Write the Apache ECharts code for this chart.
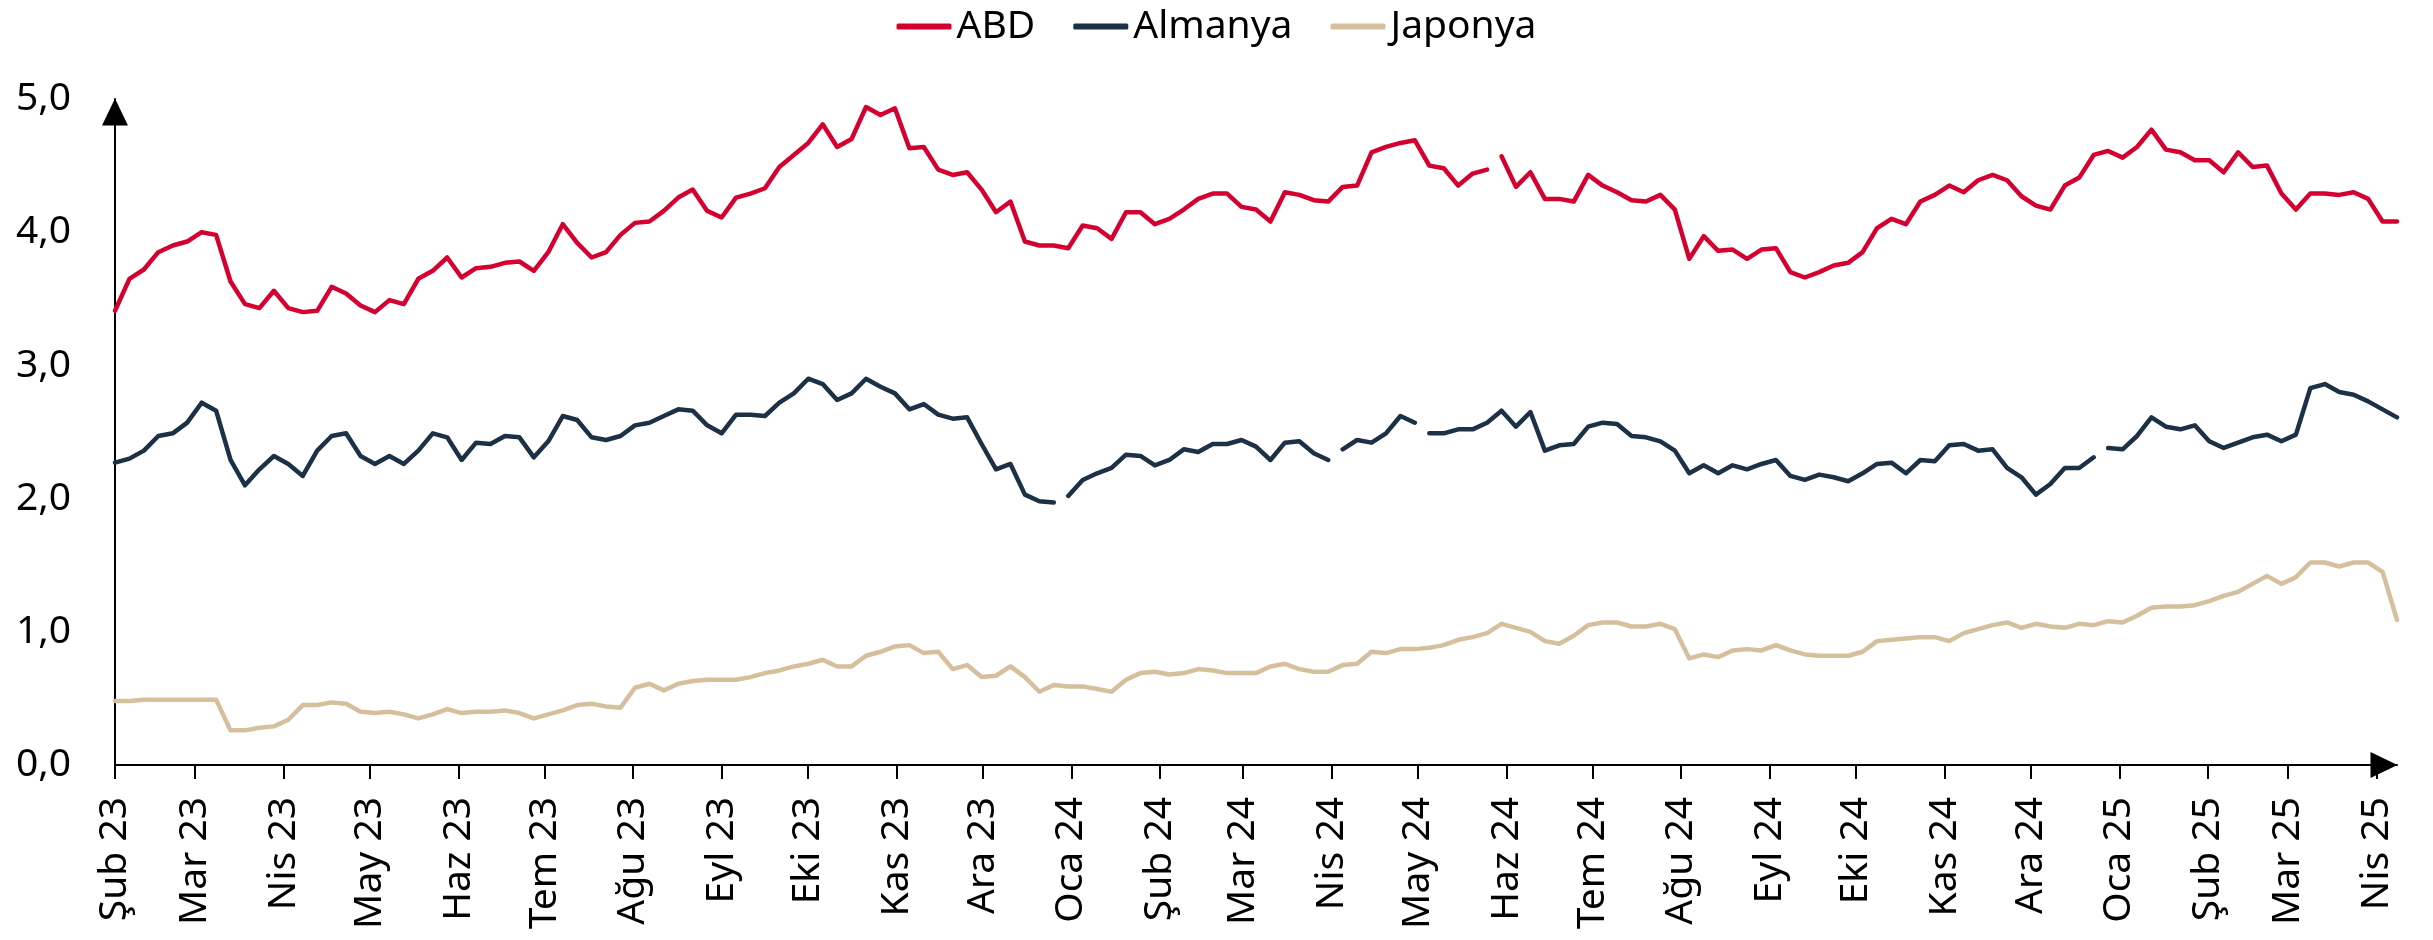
<!DOCTYPE html>
<html>
<head>
<meta charset="utf-8">
<script src="https://cdn.jsdelivr.net/npm/echarts@6/dist/echarts.min.js"></script>
<style>
  body {margin:0;padding:0;overflow:hidden;background:#fff;}
  #main {width:2433px;height:940px;}
</style>
</head>
<body>
<div id="main"></div>
<script>
// 10 yıllık tahvil faizleri (%), Şub 2023 - Nis 2025
const monthNames = ['Oca','Şub','Mar','Nis','May','Haz','Tem','Ağu','Eyl','Eki','Kas','Ara'];
const startDate = Date.UTC(2023, 1, 1);
const endDate = Date.UTC(2025, 3, 8);

const abd = [
  3.41,3.65,3.72,3.85,3.90,3.93,4.00,3.98,3.63,3.46,3.43,3.56,3.43,3.40,3.41,3.59,3.54,3.45,3.40,3.49,
  3.46,3.65,3.71,3.81,3.66,3.73,3.74,3.77,3.78,3.71,3.85,4.06,3.92,3.81,3.85,3.98,4.07,4.08,4.16,4.26,
  4.32,4.16,4.11,4.26,4.29,4.33,4.49,4.58,4.67,4.81,4.64,4.70,4.94,4.88,4.93,4.63,4.64,4.47,4.43,4.45,
  4.32,4.15,4.23,3.93,3.90,3.90,3.88,4.05,4.03,3.95,4.15,4.15,4.06,4.10,4.17,4.25,4.29,4.29,4.19,4.17,
  4.08,4.30,4.28,4.24,4.23,4.34,4.35,4.60,4.64,4.67,4.69,4.50,4.48,4.35,4.44,4.47,4.57,4.34,4.45,4.25,
  4.25,4.23,4.43,4.35,4.30,4.24,4.23,4.28,4.17,3.80,3.97,3.86,3.87,3.80,3.87,3.88,3.70,3.66,3.70,3.75,
  3.77,3.85,4.03,4.10,4.06,4.23,4.28,4.35,4.30,4.39,4.43,4.39,4.27,4.20,4.17,4.35,4.41,4.58,4.61,4.56,
  4.64,4.77,4.62,4.60,4.54,4.54,4.45,4.60,4.49,4.50,4.29,4.17,4.29,4.29,4.28,4.30,4.25,4.08,4.08
];
const almanya = [
  2.27,2.30,2.36,2.47,2.49,2.57,2.72,2.66,2.29,2.10,2.22,2.32,2.26,2.17,2.36,2.47,2.49,2.32,2.26,2.32,
  2.26,2.36,2.49,2.46,2.29,2.42,2.41,2.47,2.46,2.31,2.43,2.62,2.59,2.46,2.44,2.47,2.55,2.57,2.62,2.67,
  2.66,2.55,2.49,2.63,2.63,2.62,2.72,2.79,2.90,2.86,2.74,2.79,2.90,2.84,2.79,2.67,2.71,2.63,2.60,2.61,
  2.41,2.22,2.26,2.03,1.98,1.97,2.02,2.14,2.19,2.23,2.33,2.32,2.25,2.29,2.37,2.35,2.41,2.41,2.44,2.39,
  2.29,2.42,2.43,2.34,2.29,2.37,2.44,2.42,2.49,2.62,2.57,2.49,2.49,2.52,2.52,2.57,2.66,2.54,2.65,2.36,
  2.40,2.41,2.54,2.57,2.56,2.47,2.46,2.43,2.36,2.19,2.25,2.19,2.25,2.22,2.26,2.29,2.17,2.14,2.18,2.16,
  2.13,2.19,2.26,2.27,2.19,2.29,2.28,2.40,2.41,2.36,2.37,2.23,2.16,2.03,2.11,2.23,2.23,2.31,2.38,2.37,
  2.47,2.61,2.54,2.52,2.55,2.43,2.38,2.42,2.46,2.48,2.43,2.48,2.83,2.86,2.80,2.78,2.73,2.67,2.61
];
const japonya = [
  0.48,0.48,0.49,0.49,0.49,0.49,0.49,0.49,0.26,0.26,0.28,0.29,0.34,0.45,0.45,0.47,0.46,0.40,0.39,0.40,
  0.38,0.35,0.38,0.42,0.39,0.40,0.40,0.41,0.39,0.35,0.38,0.41,0.45,0.46,0.44,0.43,0.58,0.61,0.56,0.61,
  0.63,0.64,0.64,0.64,0.66,0.69,0.71,0.74,0.76,0.79,0.74,0.74,0.82,0.85,0.89,0.90,0.84,0.85,0.72,0.75,
  0.66,0.67,0.74,0.66,0.55,0.60,0.59,0.59,0.57,0.55,0.64,0.69,0.70,0.68,0.69,0.72,0.71,0.69,0.69,0.69,
  0.74,0.76,0.72,0.70,0.70,0.75,0.76,0.85,0.84,0.87,0.87,0.88,0.90,0.94,0.96,0.99,1.06,1.03,1.00,0.93,
  0.91,0.97,1.05,1.07,1.07,1.04,1.04,1.06,1.02,0.80,0.83,0.81,0.86,0.87,0.86,0.90,0.86,0.83,0.82,0.82,
  0.82,0.85,0.93,0.94,0.95,0.96,0.96,0.93,0.99,1.02,1.05,1.07,1.03,1.06,1.04,1.03,1.06,1.05,1.08,1.07,
  1.12,1.18,1.19,1.19,1.20,1.23,1.27,1.30,1.36,1.42,1.36,1.41,1.52,1.52,1.49,1.52,1.52,1.45,1.09
];
// verinin olmadığı tatil günleri (çizgide boşluk)
const abdGaps = ['2024-05-27'];
const almanyaGaps = ['2023-12-26', '2024-04-01', '2024-05-01', '2024-12-25'];
const japonyaGaps = [];

const DAY = 86400000;
const totalDays = (endDate - startDate) / DAY;
// gözlemler eşit aralıklı (yaklaşık 5 gün)
const sampleDays = abd.map((_, i) => i * totalDays / (abd.length - 1));

// ay başı işaretleri
const tickDays = [];
const tickLabels = [];
for (let y = 2023, m = 1; ; m++) {
  if (m > 11) { m = 0; y++; }
  if (y === 2025 && m > 3) break;
  tickDays.push((Date.UTC(y, m, 1) - startDate) / DAY);
  tickLabels.push(monthNames[m] + ' ' + String(y).slice(2));
}

const font = '"Noto Sans", "Open Sans", sans-serif';
function buildSeries(arr, gaps) {
  let pts = sampleDays.map((d, i) => [d, arr[i]]);
  gaps.forEach(g => pts.push([(Date.parse(g) - startDate) / DAY, null]));
  return pts.sort((a, b) => a[0] - b[0]);
}

let myChart = echarts.init(document.getElementById('main'));
let option = {
  animation: false,
  backgroundColor: '#fff',
  textStyle: {fontFamily: font, color: '#000'},
  legend: {
    top: 2,
    left: 'center',
    icon: 'roundRect',
    itemWidth: 55,
    itemHeight: 6,
    itemGap: 38,
    textStyle: {fontSize: 39, color: '#000', fontFamily: font},
    data: ['ABD', 'Almanya', 'Japonya']
  },
  grid: {left: 115, right: 36, top: 99, bottom: 175, containLabel: false, outerBoundsMode: 'none'},
  xAxis: {
    type: 'value',
    min: 0,
    max: totalDays,
    splitLine: {show: false},
    axisLine: {
      show: true,
      lineStyle: {color: '#000', width: 2},
      symbol: ['none', 'triangle'],
      symbolSize: [26, 27],
      symbolOffset: [0, -13]
    },
    axisTick: {
      show: true,
      length: 14,
      lineStyle: {color: '#000', width: 2},
      customValues: tickDays
    },
    axisLabel: {
      rotate: 90,
      margin: 32,
      fontSize: 39,
      color: '#000',
      fontFamily: font,
      customValues: tickDays,
      formatter: v => tickLabels[tickDays.indexOf(Math.round(v))] || ''
    }
  },
  yAxis: {
    type: 'value',
    min: 0,
    max: 5,
    interval: 1,
    splitLine: {show: false},
    axisLine: {
      show: true,
      lineStyle: {color: '#000', width: 2},
      symbol: ['none', 'triangle'],
      symbolSize: [26, 27],
      symbolOffset: [0, -13]
    },
    axisTick: {show: false},
    axisLabel: {
      margin: 44,
      fontSize: 39,
      color: '#000',
      fontFamily: font,
      formatter: v => v.toFixed(1).replace('.', ',')
    }
  },
  series: [
    {name: 'ABD', type: 'line', symbol: 'none', data: buildSeries(abd, abdGaps),
     itemStyle: {color: '#D4002F'}, lineStyle: {color: '#D4002F', width: 4.5, cap: 'round', join: 'round'}},
    {name: 'Almanya', type: 'line', symbol: 'none', data: buildSeries(almanya, almanyaGaps),
     itemStyle: {color: '#1C3046'}, lineStyle: {color: '#1C3046', width: 4.5, cap: 'round', join: 'round'}},
    {name: 'Japonya', type: 'line', symbol: 'none', data: buildSeries(japonya, japonyaGaps),
     itemStyle: {color: '#D5BF9D'}, lineStyle: {color: '#D5BF9D', width: 4.5, cap: 'round', join: 'round'}}
  ]
};
myChart.setOption(option);
window.onresize = myChart.resize;
</script>
</body>
</html>
